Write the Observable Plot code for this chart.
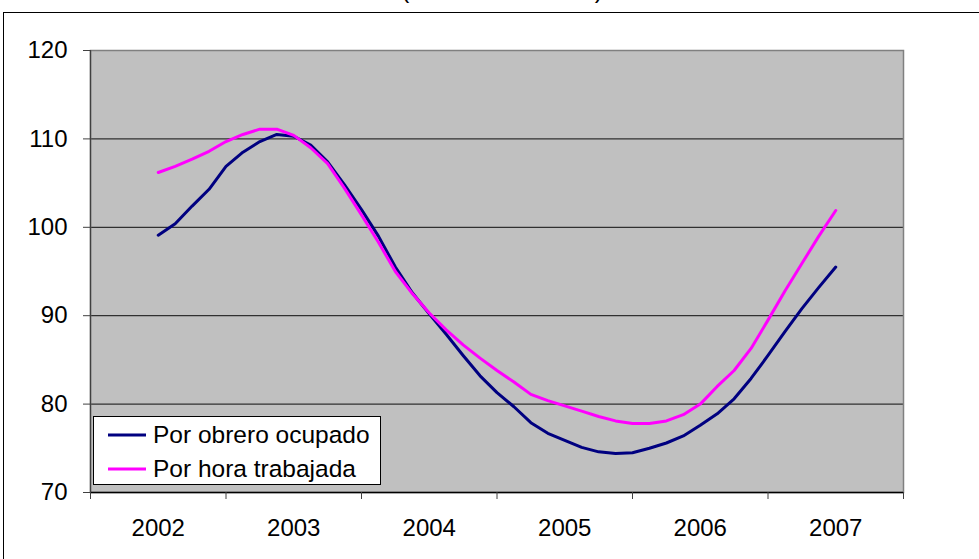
<!DOCTYPE html>
<html>
<head>
<meta charset="utf-8">
<script src="https://cdn.jsdelivr.net/npm/d3@7"></script>
<script src="https://cdn.jsdelivr.net/npm/@observablehq/plot@0.6"></script>
<style>
  html, body { margin: 0; padding: 0; background: #fff; }
  #page { position: relative; width: 979px; height: 559px; overflow: hidden; font-family: "Liberation Sans", Arial, sans-serif; }
  #outer { position: absolute; left: 3px; top: 12px; width: 1100px; height: 700px; border: 1px solid #000; box-sizing: border-box; }
  #title { position: absolute; left: 0; width: 1004px; top: -23px; text-align: center; font-size: 25px; line-height: 25px; color: #000; }
  #chart { position: absolute; left: 0; top: 0; }
  #legend { position: absolute; left: 93px; top: 416px; width: 288px; height: 69px; background: #fff; border: 1px solid #000; box-sizing: border-box; }
  .row { position: absolute; left: 0; height: 30px; width: 100%; }
  .row svg { position: absolute; left: 13px; top: 0; }
  .row span { position: absolute; left: 59px; top: 0; font-size: 24.5px; line-height: 30px; white-space: nowrap; color: #000; }
</style>
</head>
<body>
<div id="page">
  <div id="outer"></div>
  <div id="title">(Índice 2002=100)</div>
  <div id="chart"></div>
  <div id="legend"></div>
</div>
<script>
// Category labels (years) and boundaries between them
const years = [2002, 2003, 2004, 2005, 2006, 2007];
const yearBounds = [2001.5, 2002.5, 2003.5, 2004.5, 2005.5, 2006.5, 2007.5];
const yTicks = [70, 80, 90, 100, 110, 120];
const gridValues = [80, 90, 100, 110];

// Time positions of the observations (every eighth of a year)
const periods = [
  2002, 2002.125, 2002.25, 2002.375, 2002.5, 2002.625, 2002.75, 2002.875,
  2003, 2003.125, 2003.25, 2003.375, 2003.5, 2003.625, 2003.75, 2003.875,
  2004, 2004.125, 2004.25, 2004.375, 2004.5, 2004.625, 2004.75, 2004.875,
  2005, 2005.125, 2005.25, 2005.375, 2005.5, 2005.625, 2005.75, 2005.875,
  2006, 2006.125, 2006.25, 2006.375, 2006.5, 2006.625, 2006.75, 2006.875,
  2007
];

const seriesNames = ["Por obrero ocupado", "Por hora trabajada"];
const seriesColors = ["#000080", "#ff00ff"];

const porObrero = [
  99.1, 100.4, 102.4, 104.3, 106.9, 108.5, 109.7, 110.5,
  110.3, 109.3, 107.4, 104.8, 102.0, 99.0, 95.5, 92.6,
  90.2, 87.9, 85.5, 83.2, 81.3, 79.7, 77.9, 76.7,
  75.9, 75.1, 74.6, 74.4, 74.5, 75.0, 75.6, 76.4,
  77.6, 78.9, 80.6, 82.9, 85.5, 88.2, 90.8, 93.2,
  95.5
];

const porHora = [
  106.2, 106.9, 107.7, 108.6, 109.7, 110.5, 111.1, 111.1,
  110.4, 109.0, 107.2, 104.4, 101.4, 98.3, 95.0, 92.5,
  90.3, 88.4, 86.7, 85.2, 83.8, 82.5, 81.1, 80.4,
  79.8, 79.2, 78.6, 78.1, 77.8, 77.8, 78.1, 78.8,
  80.0, 82.0, 83.8, 86.3, 89.5, 92.8, 95.9, 99.0,
  101.9
];

const data = [];
periods.forEach((p, i) => {
  data.push({t: p, v: porObrero[i], s: seriesNames[0]});
  data.push({t: p, v: porHora[i], s: seriesNames[1]});
});

const chart = Plot.plot({
  width: 979,
  height: 559,
  marginLeft: 90,
  marginRight: 76,
  marginTop: 50,
  marginBottom: 67,
  style: {fontFamily: "'Liberation Sans', Arial, sans-serif", fontSize: "24px", color: "#000", background: "transparent", overflow: "visible"},
  x: {domain: [2001.5, 2007.5], axis: null, label: null},
  y: {domain: [70, 120], axis: null, label: null},
  color: {domain: seriesNames, range: seriesColors},
  marks: [
    Plot.frame({fill: "#c0c0c0", stroke: null}),
    Plot.gridY(gridValues, {stroke: "#303030", strokeOpacity: 1, strokeWidth: 1.3}),
    Plot.frame({stroke: "#808080", strokeWidth: 1.5}),
    Plot.ruleY([70], {stroke: "#000", strokeWidth: 1.3}),
    Plot.ruleX([2001.5], {stroke: "#404040", strokeWidth: 1.3}),
    Plot.axisY(yTicks, {label: null, tickSize: 7, tickPadding: 16, stroke: "#404040", fontSize: 24, tickFormat: d => String(d)}),
    Plot.axisX(yearBounds, {label: null, tickSize: 7, stroke: "#404040", tickFormat: () => ""}),
    Plot.axisX(years, {label: null, tickSize: 0, tickPadding: 26, fontSize: 24, tickFormat: d => String(d)}),
    Plot.line(data, {x: "t", y: "v", z: "s", stroke: "s", strokeWidth: 3, strokeLinejoin: "round", strokeLinecap: "round"})
  ]
});
document.getElementById("chart").appendChild(chart);

// Legend
const legend = document.getElementById("legend");
const rowTops = [3, 37];
seriesNames.forEach((name, i) => {
  const row = document.createElement("div");
  row.className = "row";
  row.style.top = rowTops[i] + "px";
  row.innerHTML = `<svg width="40" height="30"><line x1="1" x2="39" y1="15" y2="15" stroke="${seriesColors[i]}" stroke-width="3"/></svg><span>${name}</span>`;
  legend.appendChild(row);
});
</script>
</body>
</html>
